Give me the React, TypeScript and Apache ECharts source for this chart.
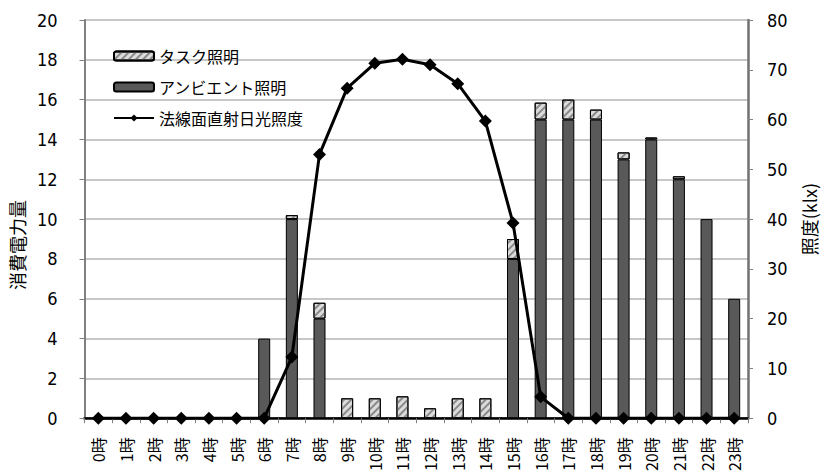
import React, { useEffect, useRef } from "react";
import * as echarts from "echarts";

// Hour labels
const hours: string[] = [
  "0時", "1時", "2時", "3時", "4時", "5時", "6時", "7時", "8時", "9時", "10時", "11時",
  "12時", "13時", "14時", "15時", "16時", "17時", "18時", "19時", "20時", "21時", "22時", "23時",
];

// Ambient lighting power per hour
const ambient: number[] = [
  0, 0, 0, 0, 0, 0, 4, 10, 5, 0, 0, 0,
  0, 0, 0, 8, 15, 15, 15, 13, 14, 12, 10, 6,
];

// Task lighting power per hour (stacked on ambient)
const task: number[] = [
  0, 0, 0, 0, 0, 0, 0, 0.2, 0.8, 1.0, 1.0, 1.1,
  0.5, 1.0, 1.0, 1.0, 0.85, 1.0, 0.5, 0.35, 0.1, 0.15, 0, 0,
];

// Direct normal solar illuminance (klx)
const illuminance: number[] = [
  0, 0, 0, 0, 0, 0, 0, 12.3, 53, 66.3, 71.3, 72.1,
  71, 67.2, 59.7, 39.2, 4.3, 0, 0, 0, 0, 0, 0, 0,
];

const leftTicks = { min: 0, max: 20, interval: 2 };
const rightTicks = { min: 0, max: 80, interval: 10 };

const JP = '"Noto Sans CJK JP", sans-serif';
const NUM = '"Liberation Sans Narrow", "DejaVu Sans Condensed", "Liberation Sans", Arial, sans-serif';

export default function App() {
  const ref = useRef<HTMLDivElement>(null);

  useEffect(() => {
    if (!ref.current) return;
    const chart = echarts.init(ref.current, undefined, { renderer: "svg" });
    chart.setOption({
      animation: false,
      backgroundColor: "#ffffff",
      grid: { left: 82, right: 67, top: 20, bottom: 54, containLabel: false },
      legend: {
        orient: "vertical",
        left: 108,
        top: 43,
        itemWidth: 40,
        itemHeight: 9,
        itemGap: 15,
        data: ["タスク照明", "アンビエント照明", "法線面直射日光照度"],
        textStyle: { fontFamily: JP, fontSize: 16, color: "#000" },
        selectedMode: false,
      },
      xAxis: [
        {
          type: "category",
          data: hours,
          position: "bottom",
          axisLine: { lineStyle: { color: "#808080", width: 2 } },
          axisTick: { show: true, length: 5, lineStyle: { color: "#808080" } },
          axisLabel: {
            rotate: 90,
            interval: 0,
            fontFamily: JP,
            fontSize: 16,
            color: "#000",
            margin: 19,
          },
        },
        {
          type: "category",
          data: hours,
          position: "top",
          axisLine: { lineStyle: { color: "#000", width: 2.5 } },
          axisTick: { show: false },
          axisLabel: { show: false },
        },
      ],
      yAxis: [
        {
          type: "value",
          ...leftTicks,
          position: "left",
          name: "消費電力量",
          nameLocation: "middle",
          nameGap: 53,
          nameRotate: 90,
          nameTextStyle: {
            fontFamily: JP,
            fontSize: 18,
            color: "#000",
            padding: [0, 52, 0, 0],
          },
          axisLine: { show: true, lineStyle: { color: "#808080", width: 2 } },
          axisTick: { show: true, length: 5, lineStyle: { color: "#808080" } },
          axisLabel: { fontFamily: NUM, fontSize: 18, color: "#000", margin: 27 },
          splitLine: { show: true, lineStyle: { color: "#b4b4b4", width: 1.5 } },
        },
        {
          type: "value",
          ...rightTicks,
          position: "right",
          name: "照度(klx)",
          nameLocation: "middle",
          nameGap: 52,
          nameRotate: 90,
          nameTextStyle: { fontFamily: JP, fontSize: 18, color: "#000" },
          axisLine: { show: true, lineStyle: { color: "#707070", width: 2.5 } },
          axisTick: { show: true, length: 5, lineStyle: { color: "#808080" } },
          axisLabel: { fontFamily: NUM, fontSize: 18, color: "#000", margin: 19 },
          splitLine: { show: false },
        },
      ],
      series: [
        {
          name: "アンビエント照明",
          type: "bar",
          stack: "power",
          barWidth: 12,
          data: ambient,
          itemStyle: { color: "#595959", borderColor: "#000", borderWidth: 1 },
        },
        {
          name: "タスク照明",
          type: "bar",
          stack: "power",
          barWidth: 12,
          data: task.map((v) => (v > 0 ? v : null)),
          itemStyle: {
            color: "#dcdcdc",
            borderColor: "#000",
            borderWidth: 1,
            decal: {
              symbol: "rect",
              symbolSize: 1,
              color: "#8a8a8a",
              dashArrayX: [1, 0],
              dashArrayY: [2, 3],
              rotation: -Math.PI / 4,
            },
          },
        },
        {
          name: "法線面直射日光照度",
          type: "line",
          yAxisIndex: 1,
          data: illuminance,
          symbol: "diamond",
          symbolSize: 13,
          z: 5,
          lineStyle: { color: "#000", width: 3 },
          itemStyle: { color: "#000" },
        },
      ],
    });
    return () => chart.dispose();
  }, []);

  return (
    <div
      ref={ref}
      style={{ position: "absolute", left: 0, top: 0, width: 826, height: 474 }}
    />
  );
}
